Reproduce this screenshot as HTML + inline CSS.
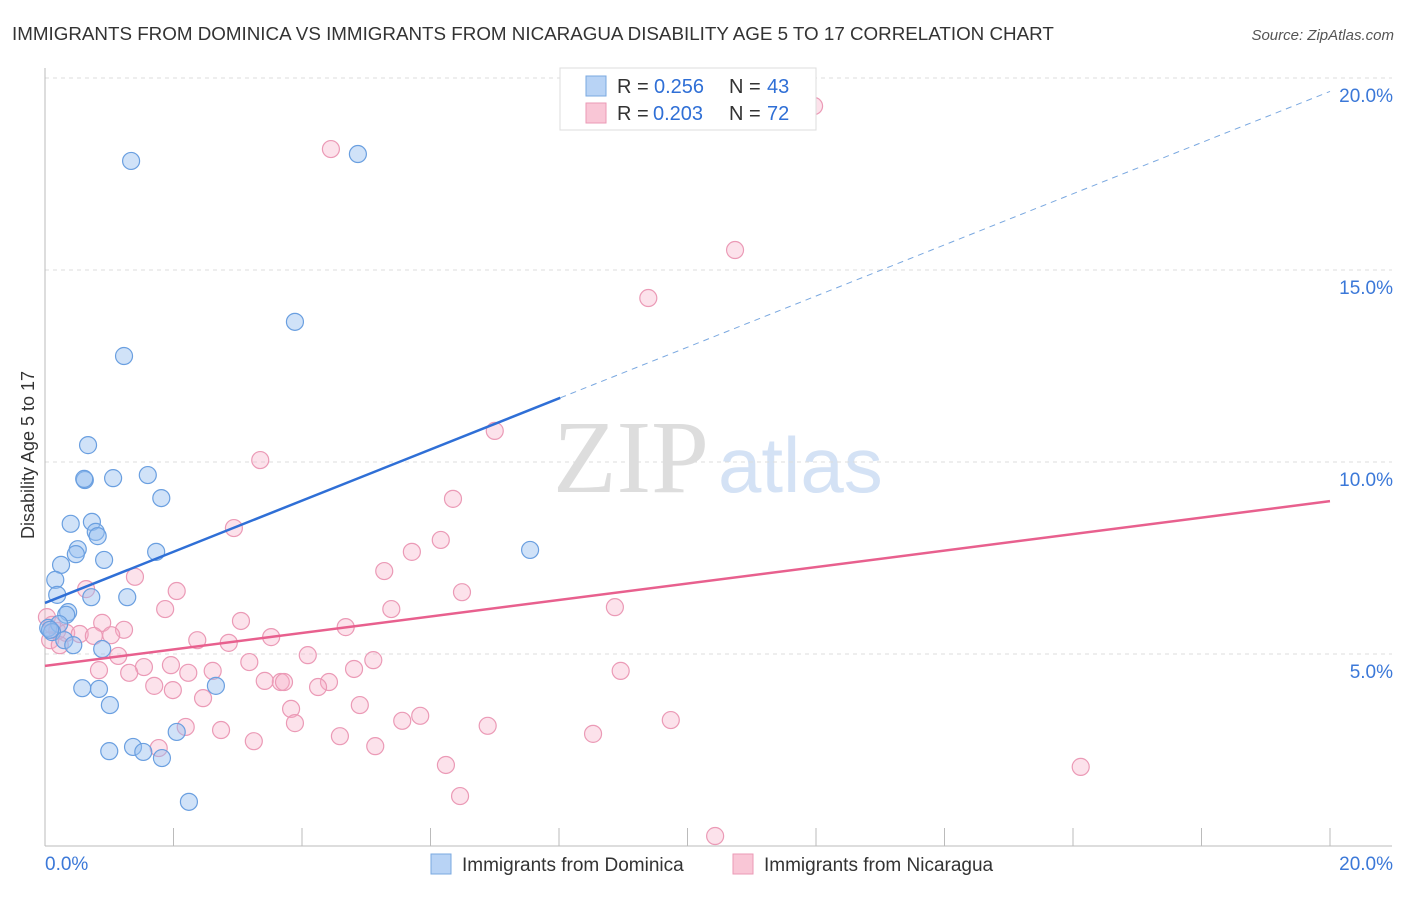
<!DOCTYPE html>
<html><head><meta charset="utf-8"><style>
body{margin:0;background:#fff;font-family:"Liberation Sans",sans-serif}
</style></head><body>
<svg id="c" width="1406" height="892" xmlns="http://www.w3.org/2000/svg">
<text x="12" y="40" font-size="18.8" fill="#333">IMMIGRANTS FROM DOMINICA VS IMMIGRANTS FROM NICARAGUA DISABILITY AGE 5 TO 17 CORRELATION CHART</text>
<text x="1394" y="40" font-size="15" fill="#555" font-style="italic" text-anchor="end">Source: ZipAtlas.com</text>
<text x="553" y="492" font-size="104" fill="#ddd" font-family="Liberation Serif">ZIP</text>
<text x="718" y="492" font-size="78" fill="#d4e2f5">atlas</text>
<text transform="translate(34,455) rotate(-90)" font-size="18" fill="#333" text-anchor="middle">Disability Age 5 to 17</text>
<g id="grid"></g><g id="marks"></g>
<g>
<rect x="560" y="68" width="256" height="62" fill="#fff" stroke="#ddd"/>
<rect x="586" y="76" width="20" height="20" fill="#b8d3f5" stroke="#7aa8e0"/>
<rect x="586" y="103" width="20" height="20" fill="#f9c6d6" stroke="#eb9ab6"/>
<text x="617" y="93" font-size="20" fill="#333">R =</text><text x="654" y="93" font-size="20" fill="#2f6fd6">0.256</text>
<text x="729" y="93" font-size="20" fill="#333">N =</text><text x="767" y="93" font-size="20" fill="#2f6fd6">43</text>
<text x="617" y="120" font-size="20" fill="#333">R =</text><text x="653" y="120" font-size="20" fill="#2f6fd6">0.203</text>
<text x="729" y="120" font-size="20" fill="#333">N =</text><text x="767" y="120" font-size="20" fill="#2f6fd6">72</text>
</g>
<g>
<rect x="431" y="854" width="20" height="20" fill="#b8d3f5" stroke="#7aa8e0"/>
<text x="462" y="871" font-size="19" fill="#333">Immigrants from Dominica</text>
<rect x="733" y="854" width="20" height="20" fill="#f9c6d6" stroke="#eb9ab6"/>
<text x="764" y="871" font-size="19" fill="#333">Immigrants from Nicaragua</text>
</g>
</svg>
<script>
const yTicks=[5,10,15,20];
const xTickCount=10;
const blueX=[1.34,4.87,3.89,1.23,0.67,0.62,0.61,1.06,1.60,1.81,0.73,0.40,0.79,0.82,0.51,0.48,1.73,7.55,0.92,0.25,0.16,0.19,0.72,1.28,0.36,0.33,0.05,0.22,0.11,0.30,0.44,0.89,2.66,0.58,0.84,1.01,2.05,1.37,1.00,1.53,1.82,2.24,0.08];
const blueY=[17.84,18.02,13.65,12.76,10.44,9.53,9.56,9.58,9.66,9.06,8.44,8.39,8.18,8.07,7.73,7.60,7.66,7.71,7.45,7.32,6.93,6.54,6.48,6.48,6.09,6.02,5.68,5.78,5.57,5.36,5.23,5.13,4.17,4.11,4.09,3.67,2.97,2.58,2.47,2.45,2.29,1.15,5.63];
const pinkX=[11.97,4.45,10.74,9.39,7.00,3.35,6.35,2.94,6.16,5.71,5.28,1.40,0.64,2.05,6.49,1.87,5.39,8.87,3.05,0.89,4.68,1.23,0.19,0.33,0.54,0.76,1.03,2.37,3.52,2.86,0.08,0.23,1.14,4.09,5.11,3.18,1.96,1.54,2.61,2.23,1.31,4.81,0.84,8.96,3.67,3.42,3.72,4.42,4.25,1.70,1.99,2.46,4.90,3.83,5.84,5.56,9.74,3.89,6.89,2.19,2.74,4.59,8.53,3.25,5.14,1.77,6.24,16.12,6.46,10.43,0.03,0.11];
const pinkY=[19.27,18.15,15.52,14.27,10.81,10.05,9.04,8.28,7.97,7.66,7.16,7.01,6.69,6.64,6.61,6.17,6.17,6.22,5.86,5.81,5.70,5.63,5.60,5.55,5.52,5.47,5.49,5.36,5.44,5.29,5.36,5.23,4.95,4.97,4.84,4.79,4.71,4.66,4.56,4.51,4.51,4.61,4.58,4.56,4.27,4.30,4.27,4.27,4.14,4.17,4.06,3.85,3.67,3.57,3.39,3.26,3.28,3.20,3.13,3.10,3.02,2.86,2.92,2.73,2.60,2.55,2.11,2.06,1.30,0.26,5.96,5.76];
const blueTrend=[6.33,19.65];
const pinkTrend=[4.69,8.98];
const NS='http://www.w3.org/2000/svg';
const X=v=>45+v*64.25, Y=v=>846-v*38.4;
function mk(t,a,p){const e=document.createElementNS(NS,t);for(const k in a)e.setAttribute(k,a[k]);p.appendChild(e);return e;}
const g=document.getElementById('grid'),m=document.getElementById('marks');
yTicks.forEach(t=>{
 const l=mk('line',{x1:45,x2:1392,y1:Y(t),y2:Y(t),stroke:'#ddd','stroke-dasharray':'4,4'},g);
 
 
 const tx=mk('text',{x:1393,y:Y(t)+24,'font-size':19,fill:'#3b78d8','text-anchor':'end'},g);
 tx.textContent=t.toFixed(1)+'%';
 
 
});
const ax=mk('line',{x1:45,x2:45,y1:68,y2:846,stroke:'#bbb'},g);


const bx=mk('line',{x1:45,x2:1392,y1:846,y2:846,stroke:'#bbb'},g);


for(let i=1;i<=xTickCount;i++){const t=mk('line',{x1:X(i*2),x2:X(i*2),y1:828,y2:846,stroke:'#bbb'},g);
 
 }
const xl=mk('text',{x:45,y:870,'font-size':19,fill:'#3b78d8'},g);xl.textContent='0.0%';


const xr=mk('text',{x:1393,y:870,'font-size':19,fill:'#3b78d8','text-anchor':'end'},g);xr.textContent='20.0%';


function pts(xs,ys,fill,stroke,name){xs.forEach((x,i)=>{const c=mk('circle',{cx:X(x),cy:Y(ys[i]),r:8.5,fill:fill,stroke:stroke,'stroke-width':1.2},m);
 
 });}
pts(pinkX,pinkY,'rgba(246,172,197,0.35)','#eb9ab6','nicaragua-point');
pts(blueX,blueY,'rgba(150,190,240,0.45)','#6a9fe0','dominica-point');
const bxEnd=8.02;
const by=x=>blueTrend[0]+(blueTrend[1]-blueTrend[0])*x/20;
const b1=mk('line',{x1:X(0),y1:Y(by(0)),x2:X(bxEnd),y2:Y(by(bxEnd)),stroke:'#2f6fd6','stroke-width':2.5},m);


const b2=mk('line',{x1:X(bxEnd),y1:Y(by(bxEnd)),x2:X(20),y2:Y(by(20)),stroke:'#7aa8e0','stroke-width':1,'stroke-dasharray':'6,5'},m);


const p1=mk('line',{x1:X(0),y1:Y(pinkTrend[0]),x2:X(20),y2:Y(pinkTrend[1]),stroke:'#e8608e','stroke-width':2.5},m);


</script>
</body></html>
